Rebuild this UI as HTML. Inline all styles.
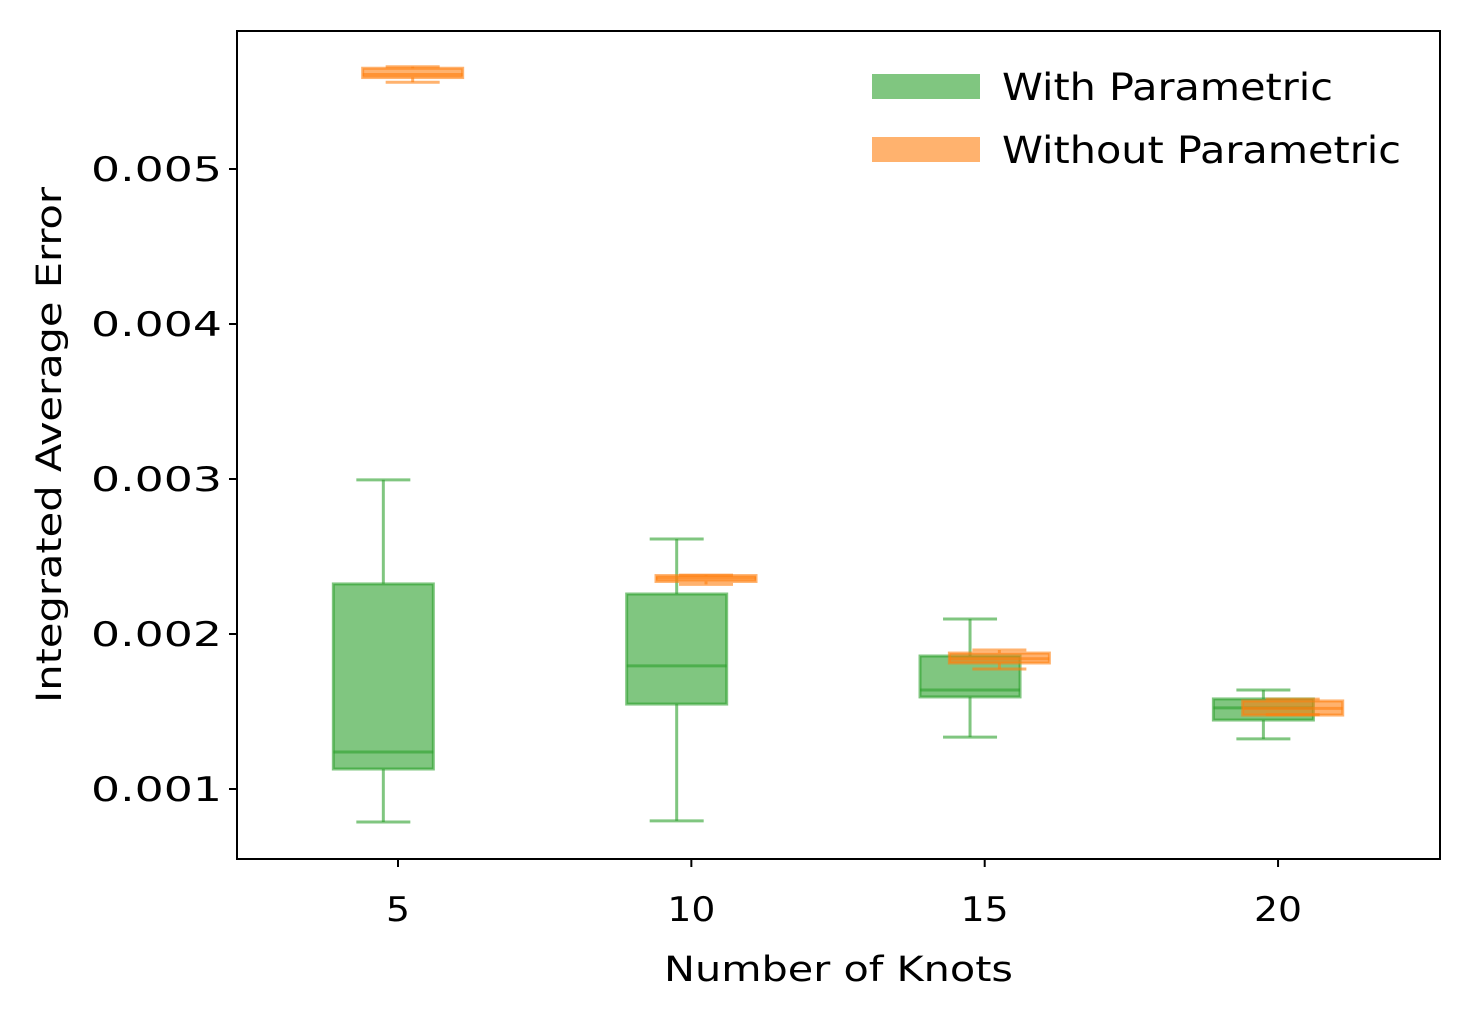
<!DOCTYPE html>
<html><head><meta charset="utf-8"><style>
body{margin:0;background:#fff;}
svg text{font-family:"DejaVu Sans","Liberation Sans",sans-serif;fill:#000;}
</style></head><body>
<svg id="chart" width="1469" height="1020" xmlns="http://www.w3.org/2000/svg">
<rect width="1469" height="1020" fill="#fff"/>
<g id="marks"></g>
<g id="axes"></g>
<rect x="237" y="31" width="1203" height="828" fill="none" stroke="#000" stroke-width="2"/>
<g>
<rect x="872" y="74" width="108" height="25" fill="#2ca02c" fill-opacity="0.6"/>
<text x="1002" y="100" font-size="37" textLength="331" lengthAdjust="spacingAndGlyphs">With Parametric</text>
<rect x="872" y="137" width="108" height="25" fill="#ff7f0e" fill-opacity="0.6"/>
<text x="1002" y="163" font-size="37" textLength="399" lengthAdjust="spacingAndGlyphs">Without Parametric</text>
</g>
<text x="664" y="981" font-size="35" textLength="349" lengthAdjust="spacingAndGlyphs">Number of Knots</text>
<text transform="translate(61,703) rotate(-90)" font-size="35" textLength="516" lengthAdjust="spacingAndGlyphs">Integrated Average Error</text>
</svg>
<script>
const knots=[5,10,15,20];
const withLo=[0.000787,0.000794,0.001335,0.001323];
const withQ1=[0.001129,0.001548,0.001594,0.001445];
const withMed=[0.001239,0.001794,0.001639,0.001523];
const withQ3=[0.002323,0.002258,0.001858,0.001581];
const withHi=[0.002994,0.002613,0.002097,0.001639];
const woLo=[0.00556,0.00232,0.001774,0.00148];
const woQ1=[0.00559,0.002339,0.001813,0.001477];
const woMed=[0.00561,0.00236,0.00184,0.00152];
const woQ3=[0.00565,0.002377,0.001877,0.001568];
const woHi=[0.00566,0.00238,0.001897,0.00158];
const yTicks=[0.001,0.002,0.003,0.004,0.005];
const yTickLabels=["0.001","0.002","0.003","0.004","0.005"];
const xTickLabels=["5","10","15","20"];

const NS="http://www.w3.org/2000/svg";
const X=v=>398+(v-5)*58.67;
const Y=v=>789-(v-0.001)*155000;
function mk(tag,attrs,parent){const e=document.createElementNS(NS,tag);for(const k in attrs)e.setAttribute(k,attrs[k]);parent.appendChild(e);return e;}
const marks=document.getElementById('marks'),axes=document.getElementById('axes');
function box(cx,lo,q1,med,q3,hi,col,name){
  const g=mk('g',{},marks);
  
  
  const hw=50,cw=27,op=0.6;
  mk('line',{x1:cx,x2:cx,y1:Y(hi),y2:Y(q3),stroke:col,'stroke-width':3,'stroke-opacity':op},g);
  mk('line',{x1:cx,x2:cx,y1:Y(q1),y2:Y(lo),stroke:col,'stroke-width':3,'stroke-opacity':op},g);
  mk('line',{x1:cx-cw,x2:cx+cw,y1:Y(hi),y2:Y(hi),stroke:col,'stroke-width':3,'stroke-opacity':op},g);
  mk('line',{x1:cx-cw,x2:cx+cw,y1:Y(lo),y2:Y(lo),stroke:col,'stroke-width':3,'stroke-opacity':op},g);
  mk('rect',{x:cx-hw,y:Y(q3),width:2*hw,height:Math.max(1,Y(q1)-Y(q3)),fill:col,'fill-opacity':op,stroke:col,'stroke-width':3,'stroke-opacity':op},g);
  mk('line',{x1:cx-hw,x2:cx+hw,y1:Y(med),y2:Y(med),stroke:col,'stroke-width':3,'stroke-opacity':op},g);
}
knots.forEach((k,i)=>{
  box(X(k-0.25),withLo[i],withQ1[i],withMed[i],withQ3[i],withHi[i],'#2ca02c','box-with-'+k);
});
knots.forEach((k,i)=>{
  box(X(k+0.25),woLo[i],woQ1[i],woMed[i],woQ3[i],woHi[i],'#ff7f0e','box-without-'+k);
});
yTicks.forEach((t,i)=>{
  const y=Y(t);
  const l=mk('line',{x1:229,x2:237,y1:y,y2:y,stroke:'#000','stroke-width':2},axes);
  
  
  const tx=mk('text',{x:91,y:y+12,'font-size':34,textLength:131,lengthAdjust:'spacingAndGlyphs'},axes);
  
  
  tx.textContent=yTickLabels[i];
});
knots.forEach((k,i)=>{
  const x=X(k);
  const w=xTickLabels[i].length*24;
  const l=mk('line',{x1:x,x2:x,y1:859,y2:867,stroke:'#000','stroke-width':2},axes);
  
  
  const tx=mk('text',{x:x-w/2,y:921,'font-size':34,textLength:w,lengthAdjust:'spacingAndGlyphs'},axes);
  
  
  tx.textContent=xTickLabels[i];
});
</script>
</body></html>
